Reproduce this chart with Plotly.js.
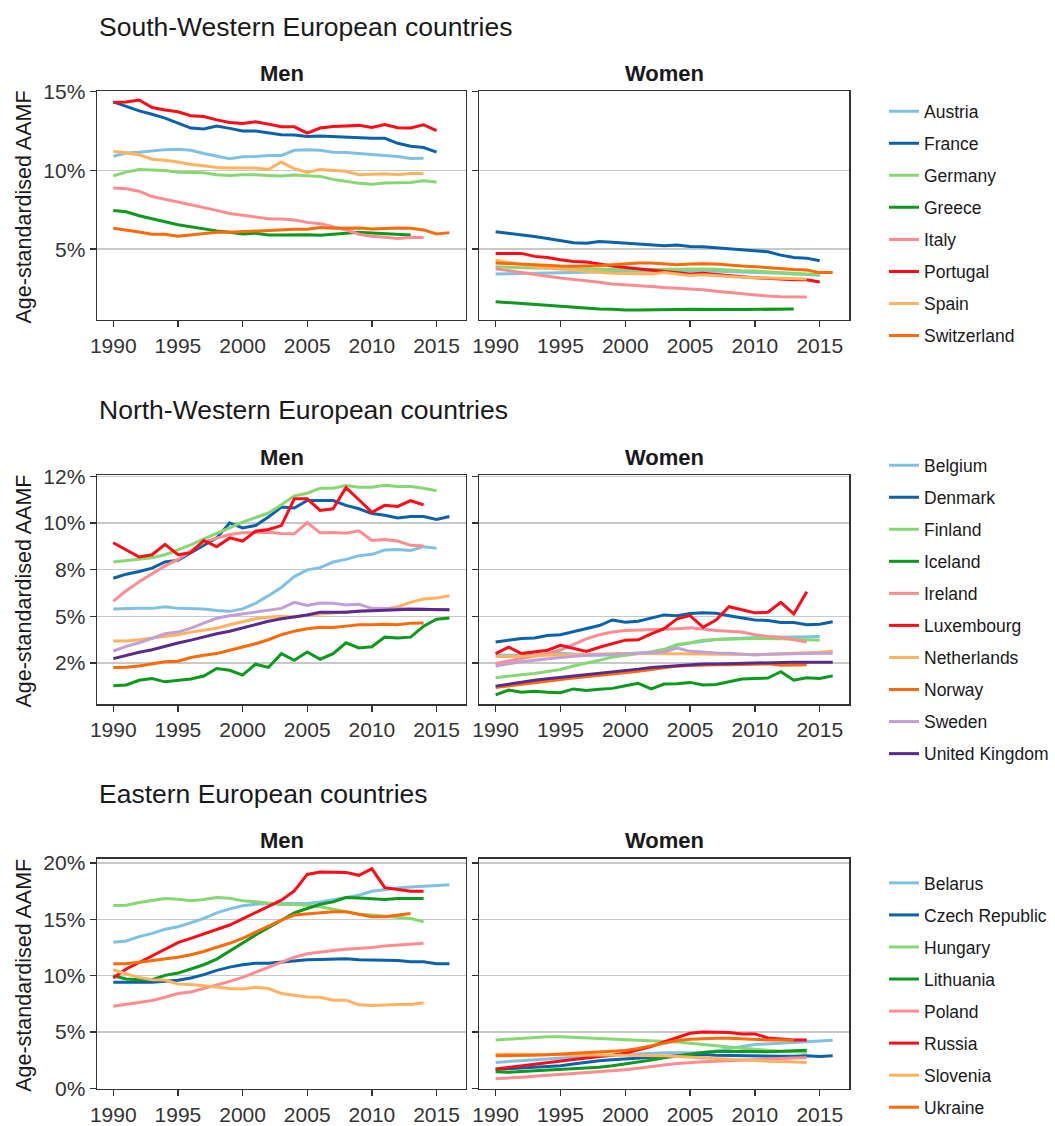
<!DOCTYPE html>
<html><head><meta charset="utf-8">
<script src="https://cdn.plot.ly/plotly-3.0.1.min.js"></script>
<style>html,body{margin:0;padding:0;background:#fff}#chart{width:1055px;height:1126px}</style>
</head><body><div id="chart"></div>
<script>
// ---------------- data ----------------
const YEARS = [1990,1991,1992,1993,1994,1995,1996,1997,1998,1999,2000,2001,2002,2003,2004,2005,2006,2007,2008,2009,2010,2011,2012,2013,2014,2015,2016];
const X_TICKS = [1990,1995,2000,2005,2010,2015];

const SW_TITLE = 'South-Western European countries';
const NW_TITLE = 'North-Western European countries';
const E_TITLE = 'Eastern European countries';
const PANEL_LABELS = ['Men','Women'];
const Y_TITLE = 'Age-standardised AAMF';

const SW_TICKVALS = [5,10,15];
const SW_TICKTEXT = ['5%','10%','15%'];
const NW_TICKVALS = [2.5,5,7.5,10,12.5];
const NW_TICKTEXT = ['2%','5%','8%','10%','12%'];
const E_TICKVALS = [0,5,10,15,20];
const E_TICKTEXT = ['0%','5%','10%','15%','20%'];

const SW_COUNTRIES = ['Austria','France','Germany','Greece','Italy','Portugal','Spain','Switzerland'];
const SW_MEN = [
 [10.90,11.11,11.16,11.24,11.32,11.34,11.28,11.07,10.90,10.74,10.86,10.88,10.95,10.95,11.28,11.32,11.28,11.16,11.13,11.07,11.03,10.97,10.88,10.76,10.78],
 [14.35,14.05,13.78,13.57,13.32,13.00,12.69,12.63,12.82,12.67,12.50,12.50,12.39,12.27,12.25,12.16,12.18,12.14,12.08,12.06,12.04,12.04,11.72,11.53,11.45,11.16],
 [9.66,9.89,10.06,10.02,10.00,9.89,9.87,9.85,9.73,9.68,9.73,9.73,9.68,9.64,9.71,9.68,9.62,9.43,9.31,9.18,9.12,9.20,9.22,9.24,9.35,9.26],
 [7.46,7.37,7.12,6.91,6.74,6.55,6.41,6.28,6.16,6.07,5.97,6.01,5.90,5.90,5.92,5.92,5.88,5.95,6.01,6.07,6.03,5.99,5.92,5.90],
 [8.89,8.84,8.68,8.34,8.17,8.00,7.84,7.67,7.46,7.27,7.16,7.08,6.93,6.91,6.85,6.70,6.62,6.43,6.22,5.95,5.82,5.76,5.67,5.74,5.74],
 [14.31,14.35,14.47,13.99,13.84,13.72,13.47,13.42,13.21,13.05,12.98,13.09,12.94,12.77,12.77,12.37,12.69,12.79,12.82,12.86,12.73,12.92,12.71,12.69,12.90,12.52],
 [11.22,11.11,10.99,10.71,10.65,10.53,10.38,10.29,10.19,10.15,10.17,10.15,10.06,10.53,10.11,9.87,10.06,9.98,9.94,9.73,9.75,9.79,9.73,9.81,9.81],
 [6.32,6.22,6.09,5.95,5.95,5.82,5.90,6.01,6.07,6.07,6.11,6.18,6.22,6.22,6.26,6.26,6.37,6.32,6.34,6.34,6.28,6.32,6.34,6.32,6.22,5.97,6.05]
];
const SW_WOMEN = [
 [3.42,3.42,3.45,3.47,3.49,3.51,3.51,3.53,3.55,3.57,3.57,3.59,3.59,3.61,3.63,3.66,3.63,3.61,3.59,3.55,3.53,3.51,3.47,3.42,3.38,3.34],
 [6.11,6.01,5.92,5.80,5.67,5.55,5.40,5.38,5.48,5.44,5.38,5.34,5.29,5.21,5.27,5.17,5.15,5.08,5.00,4.94,4.87,4.83,4.62,4.47,4.43,4.26],
 [3.89,3.84,3.82,3.80,3.78,3.76,3.74,3.72,3.72,3.70,3.68,3.68,3.70,3.72,3.74,3.76,3.74,3.72,3.66,3.63,3.61,3.57,3.51,3.47,3.45,3.38],
 [1.66,1.60,1.53,1.47,1.41,1.34,1.28,1.24,1.20,1.18,1.13,1.13,1.13,1.13,1.16,1.18,1.16,1.16,1.16,1.16,1.16,1.18,1.18,1.20],
 [3.76,3.63,3.51,3.38,3.28,3.17,3.09,3.00,2.90,2.79,2.75,2.69,2.63,2.56,2.52,2.46,2.42,2.33,2.25,2.14,2.06,2.02,1.98,1.96,1.96],
 [4.73,4.73,4.73,4.54,4.47,4.33,4.22,4.18,4.05,3.93,3.84,3.76,3.70,3.59,3.53,3.42,3.47,3.38,3.30,3.24,3.19,3.13,3.07,3.05,3.05,2.92],
 [4.29,4.16,4.01,3.89,3.80,3.76,3.68,3.59,3.51,3.47,3.45,3.42,3.42,3.51,3.42,3.32,3.38,3.32,3.28,3.21,3.19,3.17,3.13,3.11,3.11],
 [4.12,4.08,4.01,3.97,3.95,3.93,3.91,3.91,3.95,4.01,4.08,4.12,4.12,4.05,4.01,4.05,4.08,4.05,3.97,3.93,3.89,3.82,3.78,3.70,3.68,3.51,3.51]
];

const NW_COUNTRIES = ['Belgium','Denmark','Finland','Iceland','Ireland','Luxembourg','Netherlands','Norway','Sweden','United Kingdom'];
const NW_MEN = [
 [5.40,5.43,5.43,5.43,5.52,5.43,5.42,5.40,5.31,5.27,5.40,5.70,6.11,6.55,7.13,7.49,7.61,7.91,8.05,8.25,8.32,8.55,8.58,8.53,8.73,8.65],
 [7.04,7.26,7.40,7.58,7.91,8.00,8.41,8.80,9.20,10.00,9.73,9.86,10.32,10.85,10.80,11.20,11.20,11.20,10.94,10.76,10.50,10.41,10.27,10.34,10.34,10.18,10.34],
 [7.91,7.98,8.05,8.14,8.30,8.55,8.83,9.15,9.43,9.73,10.04,10.30,10.53,10.97,11.45,11.59,11.86,11.86,12.00,11.91,11.91,12.02,11.95,11.95,11.86,11.72],
 [1.29,1.33,1.58,1.68,1.50,1.58,1.65,1.81,2.21,2.12,1.86,2.44,2.27,3.01,2.65,3.10,2.71,3.01,3.59,3.31,3.38,3.89,3.84,3.89,4.48,4.85,4.92],
 [5.82,6.37,6.85,7.26,7.70,8.05,8.50,8.97,9.19,9.38,9.47,9.50,9.50,9.43,9.42,10.02,9.47,9.49,9.45,9.58,9.06,9.12,9.03,8.80,8.76],
 [8.94,8.58,8.18,8.30,8.85,8.30,8.41,9.06,8.73,9.20,9.03,9.56,9.65,9.86,11.29,11.29,10.67,10.76,11.89,11.24,10.57,10.94,10.88,11.19,10.97],
 [3.68,3.68,3.75,3.84,3.95,4.02,4.16,4.28,4.37,4.55,4.69,4.87,4.96,5.01,4.97,5.08,5.13,5.19,5.22,5.31,5.36,5.40,5.52,5.75,5.93,5.98,6.11],
 [2.27,2.28,2.35,2.44,2.57,2.60,2.80,2.92,3.01,3.19,3.36,3.54,3.75,4.02,4.21,4.34,4.42,4.41,4.48,4.55,4.55,4.58,4.55,4.64,4.65],
 [3.15,3.40,3.59,3.81,4.07,4.16,4.37,4.64,4.90,5.04,5.13,5.22,5.35,5.43,5.75,5.58,5.72,5.70,5.61,5.65,5.43,5.43,5.42,5.42,5.40,5.36,5.36],
 [2.74,2.92,3.08,3.22,3.42,3.58,3.73,3.91,4.07,4.21,4.39,4.57,4.74,4.87,4.97,5.08,5.22,5.20,5.22,5.27,5.31,5.35,5.36,5.38,5.38,5.36,5.35]
];
const NW_WOMEN = [
 [2.92,2.92,2.90,2.94,2.97,3.03,2.99,2.92,2.92,2.94,2.97,3.03,3.10,3.22,3.45,3.58,3.68,3.77,3.81,3.84,3.88,3.89,3.89,3.91,3.93,3.93],
 [3.63,3.72,3.82,3.84,3.98,4.02,4.19,4.37,4.51,4.81,4.69,4.74,4.90,5.08,5.03,5.15,5.20,5.17,5.04,4.92,4.81,4.78,4.67,4.67,4.55,4.58,4.71],
 [1.72,1.81,1.88,1.95,2.07,2.16,2.35,2.48,2.65,2.83,2.92,3.01,3.10,3.24,3.50,3.59,3.72,3.77,3.81,3.81,3.82,3.82,3.81,3.79,3.75,3.72],
 [0.80,1.06,0.94,0.99,0.94,0.92,1.12,1.04,1.10,1.15,1.29,1.42,1.12,1.38,1.40,1.47,1.33,1.36,1.50,1.65,1.68,1.70,2.04,1.59,1.72,1.68,1.82],
 [2.48,2.62,2.74,2.87,3.01,3.20,3.50,3.80,4.02,4.17,4.25,4.27,4.27,4.28,4.34,4.39,4.30,4.25,4.21,4.16,4.02,3.93,3.89,3.75,3.63],
 [3.01,3.36,3.01,3.08,3.19,3.45,3.31,3.13,3.35,3.56,3.73,3.75,4.07,4.34,4.87,5.04,4.42,4.81,5.52,5.36,5.19,5.22,5.75,5.13,6.32],
 [2.85,2.85,2.87,2.88,2.92,2.94,2.96,2.97,2.99,2.99,3.01,3.01,3.01,3.03,3.03,3.01,2.99,2.97,2.96,2.96,2.96,2.97,2.99,3.01,3.04,3.08,3.15],
 [1.20,1.29,1.38,1.47,1.56,1.63,1.70,1.77,1.82,1.89,1.98,2.07,2.16,2.25,2.34,2.37,2.41,2.41,2.42,2.44,2.46,2.46,2.39,2.39,2.42],
 [2.35,2.48,2.58,2.65,2.74,2.80,2.87,2.92,2.96,2.97,3.01,3.03,3.06,3.10,3.31,3.13,3.10,3.04,3.03,2.99,2.94,2.97,2.97,2.99,3.01,3.03,3.03],
 [1.27,1.38,1.49,1.58,1.66,1.73,1.82,1.89,1.96,2.04,2.09,2.18,2.27,2.32,2.39,2.42,2.46,2.46,2.48,2.50,2.51,2.53,2.53,2.55,2.55,2.55,2.55]
];

const E_COUNTRIES = ['Belarus','Czech Republic','Hungary','Lithuania','Poland','Russia','Slovenia','Ukraine'];
const E_MEN = [
 [12.96,13.08,13.46,13.75,14.11,14.34,14.69,15.07,15.57,15.92,16.19,16.33,16.39,16.39,16.33,16.39,16.54,16.74,16.92,17.13,17.48,17.65,17.77,17.86,17.92,17.98,18.06],
 [9.41,9.41,9.35,9.41,9.50,9.59,9.79,10.09,10.47,10.76,10.97,11.11,11.11,11.23,11.32,11.41,11.44,11.47,11.50,11.41,11.41,11.41,11.35,11.23,11.23,11.06,11.06],
 [16.22,16.25,16.48,16.63,16.83,16.77,16.63,16.74,16.92,16.86,16.63,16.54,16.45,16.30,16.30,16.25,16.10,15.87,15.66,15.45,15.37,15.28,15.19,15.07,14.78],
 [10.00,9.71,9.65,9.65,10.03,10.23,10.59,10.97,11.47,12.20,12.87,13.61,14.25,14.93,15.57,15.95,16.33,16.54,16.92,16.89,16.83,16.74,16.83,16.83,16.83],
 [7.30,7.45,7.65,7.80,8.09,8.42,8.56,8.86,9.21,9.50,9.85,10.29,10.76,11.17,11.64,11.94,12.11,12.23,12.35,12.40,12.49,12.64,12.70,12.76,12.87],
 [9.79,10.59,11.17,11.76,12.35,12.93,13.31,13.70,14.11,14.49,15.04,15.60,16.16,16.69,17.51,18.97,19.18,19.15,19.15,18.89,19.47,17.80,17.65,17.48,17.48],
 [10.53,10.15,9.85,9.65,9.62,9.27,9.21,9.12,9.00,8.86,8.83,8.97,8.86,8.42,8.30,8.12,8.09,7.83,7.83,7.42,7.36,7.42,7.45,7.45,7.60],
 [11.06,11.06,11.20,11.35,11.47,11.64,11.85,12.14,12.52,12.87,13.31,13.84,14.40,14.93,15.37,15.45,15.57,15.66,15.66,15.45,15.22,15.22,15.34,15.51]
];
const E_WOMEN = [
 [2.32,2.40,2.49,2.58,2.64,2.70,2.76,2.85,2.90,2.96,3.02,3.08,3.14,3.17,3.17,3.17,3.20,3.34,3.55,3.72,3.90,3.96,4.02,4.08,4.13,4.19,4.28],
 [1.70,1.76,1.79,1.88,1.96,2.02,2.17,2.32,2.46,2.55,2.61,2.67,2.76,2.85,2.90,2.99,3.02,2.96,2.93,2.90,2.87,2.87,2.87,2.87,2.90,2.85,2.90],
 [4.31,4.37,4.46,4.55,4.60,4.60,4.55,4.52,4.49,4.43,4.37,4.31,4.25,4.19,4.13,4.02,3.90,3.81,3.70,3.58,3.49,3.37,3.28,3.26,3.20],
 [1.50,1.44,1.52,1.58,1.64,1.73,1.79,1.85,1.88,2.02,2.17,2.32,2.52,2.73,2.90,3.08,3.20,3.28,3.31,3.28,3.28,3.26,3.31,3.34,3.40],
 [0.86,0.91,1.00,1.09,1.17,1.26,1.31,1.38,1.47,1.55,1.67,1.79,1.91,2.08,2.23,2.32,2.38,2.43,2.49,2.55,2.61,2.64,2.67,2.70,2.73],
 [1.73,1.88,2.02,2.17,2.32,2.43,2.58,2.70,2.82,2.96,3.14,3.40,3.72,4.13,4.52,4.90,5.01,5.01,4.96,4.84,4.84,4.49,4.37,4.31,4.31],
 [3.05,3.08,3.05,3.02,3.02,2.99,2.99,2.99,2.96,2.96,2.96,2.93,2.93,2.90,2.85,2.79,2.70,2.64,2.58,2.49,2.43,2.43,2.40,2.38,2.32],
 [2.90,2.90,2.93,2.96,2.99,3.05,3.08,3.14,3.20,3.26,3.37,3.55,3.78,4.02,4.25,4.37,4.43,4.46,4.46,4.40,4.34,4.31,4.31,4.28]
];

// ---------------- styles ----------------
const PALETTE = ['#7fc1e5','#0b62ac','#86d870','#0b9a1c','#ff8c90','#ff0a16','#ffb35f','#ff6a08','#c49fd6','#5b2a8e'];
const FONT = '"Liberation Sans", Arial, Helvetica, sans-serif';
const TXT = '#1a1a1a';
const AX = '#333333';
const W = 1055, H = 1126;

const XDOM = [[97/W, 466/W],[479.3/W, 849.3/W]];
const ROWS = [
  {top: 91.7, bottom: 322.3, range:[0.5,15.04], tv: SW_TICKVALS, tt: SW_TICKTEXT, title: SW_TITLE, titleY: 27, countries: SW_COUNTRIES, men: SW_MEN, women: SW_WOMEN, legendTop: 94},
  {top: 478.3, bottom: 709.3, range:[0.30,12.57], tv: NW_TICKVALS, tt: NW_TICKTEXT, title: NW_TITLE, titleY: 413, countries: NW_COUNTRIES, men: NW_MEN, women: NW_WOMEN, legendTop: 450.5},
  {top: 865, bottom: 1096.7, range:[-0.03,20.35], tv: E_TICKVALS, tt: E_TICKTEXT, title: E_TITLE, titleY: 800, countries: E_COUNTRIES, men: E_MEN, women: E_WOMEN, legendTop: 871.5}
];

const traces = [];
const layout = {
  width: W, height: H,
  margin: {l:0, r:0, t:0, b:0},
  paper_bgcolor: '#fff', plot_bgcolor: '#fff',
  font: {family: FONT, color: TXT},
  showlegend: true,
  annotations: [],
  hovermode: false
};

ROWS.forEach((row, r) => {
  const ydom = [1 - row.bottom/H, 1 - row.top/H];
  const legendId = r === 0 ? 'legend' : 'legend' + (r+1);
  layout[legendId] = {
    x: 884/W, xanchor: 'left', y: 1 - row.legendTop/H, yanchor: 'top',
    bgcolor: 'rgba(0,0,0,0)', borderwidth: 0,
    font: {family: FONT, size: 17.5, color: TXT},
    traceorder: 'grouped', tracegroupgap: 6.3, itemwidth: 30
  };
  [0,1].forEach(c => {
    const k = r*2 + c + 1;
    const xa = 'xaxis' + (k === 1 ? '' : k), ya = 'yaxis' + (k === 1 ? '' : k);
    const xr = 'x' + (k === 1 ? '' : k), yr = 'y' + (k === 1 ? '' : k);
    layout[xa] = {
      domain: XDOM[c], anchor: yr, range: [1988.74, 2017.28],
      tickvals: X_TICKS, ticks: 'outside', ticklen: 6, tickwidth: 1.4, tickcolor: AX,
      tickfont: {family: FONT, size: 21, color: '#333'},
      showline: true, mirror: true, linecolor: AX, linewidth: 1.4,
      showgrid: false, zeroline: false, fixedrange: true
    };
    layout[ya] = {
      domain: ydom, anchor: xr, range: row.range,
      tickvals: row.tv, ticktext: row.tt, ticks: 'outside', ticklen: 6, tickwidth: 1.4, tickcolor: AX,
      showticklabels: c === 0,
      tickfont: {family: FONT, size: 21, color: '#333'},
      showline: true, mirror: true, linecolor: AX, linewidth: 1.4,
      showgrid: true, gridcolor: '#c8c8c8', gridwidth: 1.4, zeroline: false, fixedrange: true
    };
    layout.annotations.push({
      xref: 'paper', yref: 'paper', x: (XDOM[c][0]+XDOM[c][1])/2, y: 1 - (row.top - 18)/H,
      xanchor: 'center', yanchor: 'middle', showarrow: false,
      text: '<b>' + PANEL_LABELS[c] + '</b>', font: {family: FONT, size: 22, color: TXT}
    });
    const series = c === 0 ? row.men : row.women;
    series.forEach((vals, i) => {
      traces.push({
        type: 'scatter', mode: 'lines',
        x: YEARS.slice(0, vals.length), y: vals,
        xaxis: xr, yaxis: yr,
        name: row.countries[i],
        legend: legendId, legendgroup: 'r' + r + '_' + i,
        showlegend: c === 0,
        line: {color: PALETTE[i], width: 3}
      });
    });
  });
  layout.annotations.push({
    xref: 'paper', yref: 'paper', x: 97/W, y: 1 - row.titleY/H, xanchor: 'left', yanchor: 'middle',
    showarrow: false, text: row.title, font: {family: FONT, size: 26.5, color: TXT}
  });
  layout.annotations.push({
    xref: 'paper', yref: 'paper', x: 24/W, y: 1 - ((row.top + row.bottom)/2 + 2)/H, xanchor: 'center', yanchor: 'middle',
    showarrow: false, textangle: -90, text: Y_TITLE, font: {family: FONT, size: 21.5, color: TXT}
  });
});

Plotly.newPlot('chart', traces, layout, {displayModeBar: false, staticPlot: true});
</script>
</body></html>
